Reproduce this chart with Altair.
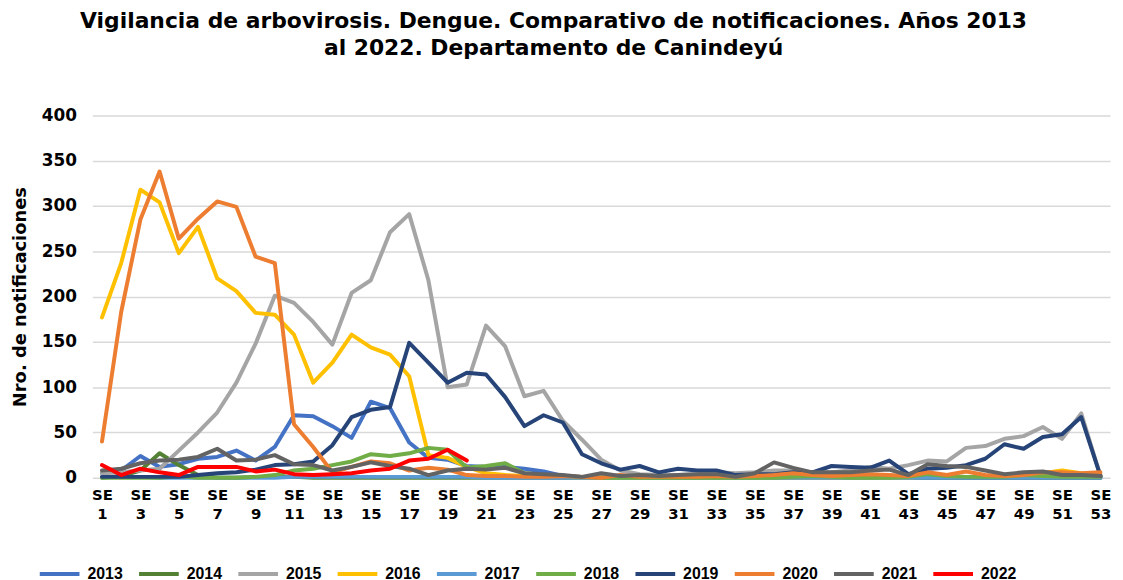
import altair as alt
import pandas as pd

weeks = list(range(1, 54))
years = ["2013", "2014", "2015", "2016", "2017", "2018", "2019", "2020", "2021", "2022"]
colors = ["#4472C4", "#548235", "#A5A5A5", "#FFC000", "#5B9BD5",
          "#70AD47", "#264478", "#ED7D31", "#636363", "#FF0000"]

v2013 = [5, 8, 24, 12, 15, 21, 23, 30, 19, 34, 69, 68, 57, 44, 84, 77, 39, 22, 20, 13,
         12, 12, 10, 7, 2, 1, 0, 0, 0, 0, 0, 0, 0, 0, 0, 0, 0, 0, 0, 0,
         0, 0, 0, 0, 0, 0, 0, 0, 0, 0, 0, 0, 0]
v2014 = [0, 2, 8, 27, 14, 3, 0, 0, 1, 1, 1, 0, 0, 0, 0, 0, 0, 0, 0, 0,
         0, 0, 0, 0, 0, 0, 0, 0, 0, 0, 0, 0, 0, 0, 0, 0, 0, 0, 0, 0,
         0, 0, 0, 0, 0, 0, 0, 0, 0, 0, 0, 0, 0]
v2015 = [5, 6, 8, 10, 30, 50, 72, 105, 148, 201, 193, 172, 147, 204, 218, 271, 291, 218, 100, 103,
         168, 145, 90, 96, 63, 42, 20, 8, 4, 3, 3, 4, 6, 5, 6, 8, 8, 5, 6, 8,
         12, 10, 14, 19, 18, 33, 35, 43, 46, 56, 43, 71, 2]
v2016 = [177, 237, 318, 304, 248, 277, 220, 206, 182, 180, 158, 105, 127, 158, 144, 136, 112, 25, 22, 12,
         5, 3, 2, 1, 1, 0, 0, 0, 0, 0, 0, 0, 0, 0, 0, 0, 0, 0, 0, 0,
         0, 0, 0, 1, 1, 1, 1, 2, 3, 5, 8, 5, 3]
v2017 = [1, 1, 1, 0, 0, 0, 0, 0, 0, 0, 1, 1, 1, 1, 1, 1, 1, 1, 1, 1,
         0, 0, 0, 0, 0, 0, 0, 0, 0, 0, 0, 0, 0, 0, 0, 0, 0, 0, 0, 0,
         0, 0, 0, 0, 0, 0, 0, 0, 0, 0, 0, 0, 0]
v2018 = [0, 0, 0, 0, 2, 0, 0, 0, 1, 3, 8, 10, 14, 18, 26, 24, 27, 33, 31, 11,
         13, 16, 5, 3, 2, 1, 0, 0, 0, 0, 0, 0, 0, 0, 0, 0, 1, 2, 1, 0,
         0, 0, 1, 4, 2, 1, 1, 1, 3, 2, 1, 1, 1]
v2019 = [1, 1, 1, 1, 1, 3, 5, 6, 9, 14, 15, 18, 36, 67, 75, 78, 149, 127, 105, 116,
         114, 89, 57, 69, 61, 26, 16, 9, 13, 6, 10, 8, 8, 3, 4, 4, 6, 6, 13, 12,
         11, 19, 4, 10, 11, 14, 21, 37, 32, 45, 48, 67, 2]
v2020 = [40, 183, 285, 338, 264, 286, 305, 299, 244, 237, 59, 34, 6, 12, 18, 16, 8, 11, 9, 3,
         2, 2, 1, 1, 2, 1, 0, 3, 1, 1, 1, 1, 2, 1, 2, 3, 5, 3, 2, 3,
         4, 3, 2, 6, 3, 7, 3, 2, 3, 6, 6, 5, 6]
v2021 = [8, 10, 16, 19, 20, 23, 32, 19, 20, 25, 15, 14, 8, 12, 17, 13, 10, 3, 8, 10,
         9, 11, 5, 4, 3, 1, 5, 2, 3, 2, 3, 4, 4, 1, 5, 17, 11, 6, 6, 6,
         8, 9, 3, 15, 13, 12, 8, 4, 6, 7, 3, 3, 2]
v2022 = [14, 3, 10, 6, 3, 12, 12, 12, 7, 9, 4, 3, 4, 5, 8, 10, 19, 21, 31, 19]

series = [v2013, v2014, v2015, v2016, v2017, v2018, v2019, v2020, v2021, v2022]

rows = []
for yi, (yr, vals) in enumerate(zip(years, series)):
    for w, v in zip(weeks, vals):
        rows.append({"week": w, "year": yr, "value": v, "ord": yi})
df = pd.DataFrame(rows)

odd_weeks = list(range(1, 54, 2))
y_ticks = list(range(0, 401, 50))

title_lines = ["Vigilancia de arbovirosis. Dengue. Comparativo de notificaciones. Años 2013",
               "al 2022. Departamento de Canindeyú"]

chart = alt.Chart(df).mark_line(strokeWidth=4, strokeJoin="round", strokeCap="round").encode(
    x=alt.X("week:Q",
            scale=alt.Scale(domain=[0.5, 53.5], nice=False, zero=False),
            axis=alt.Axis(values=odd_weeks, labelExpr="['SE', datum.value]",
                          title=None, grid=False, domain=False, ticks=False,
                          labelFont="DejaVu Sans", labelFontWeight="bold", labelFontSize=15,
                          labelColor="#000000", labelLineHeight=19, labelPadding=10,
                          labelOverlap=False, labelFlush=False)),
    y=alt.Y("value:Q",
            scale=alt.Scale(domain=[0, 400], nice=False),
            axis=alt.Axis(values=y_ticks, title="Nro. de notificaciones",
                          grid=True, gridColor="#D9D9D9", gridWidth=1.5,
                          domain=False, ticks=False,
                          labelFont="DejaVu Sans", labelFontWeight="bold", labelFontSize=17,
                          labelColor="#000000", labelPadding=16,
                          titleFont="DejaVu Sans", titleFontWeight="bold", titleFontSize=18,
                          titleColor="#000000", titlePadding=12)),
    color=alt.Color("year:N",
                    scale=alt.Scale(domain=years, range=colors),
                    legend=alt.Legend(orient="none", legendX=-55, legendY=440,
                                      direction="horizontal", columns=10, title=None,
                                      symbolType="stroke", symbolSize=1600,
                                      symbolStrokeWidth=4, labelOffset=6,
                                      columnPadding=8,
                                      labelFont="Liberation Sans Narrow, Liberation Sans",
                                      labelFontWeight="bold", labelFontSize=16,
                                      labelColor="#000000")),
    order=alt.Order("ord:Q"),
).properties(
    width=1025,
    height=365,
    title=alt.Title(text=title_lines, font="DejaVu Sans", fontSize=22, fontWeight="bold",
                    color="#000000", anchor="middle", dx=-48, offset=47, lineHeight=27),
    autosize=alt.AutoSizeParams(type="none"),
    padding={"left": 85, "top": 106, "right": 5, "bottom": 130},
).configure_view(stroke=None)

chart.save("out.html", embed_options={"renderer": "svg", "actions": False})
